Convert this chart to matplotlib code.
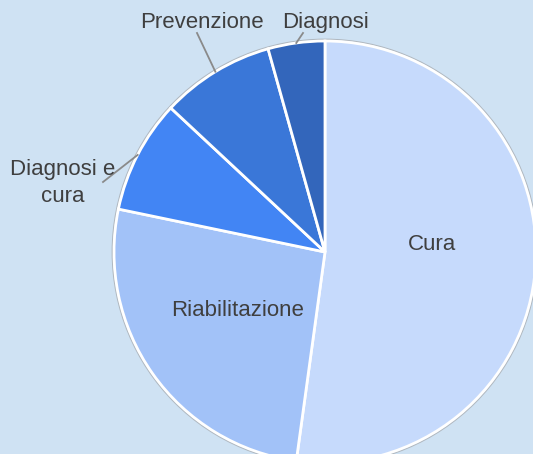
import numpy as np
import matplotlib
matplotlib.use("Agg")
import matplotlib.pyplot as plt
from matplotlib.patches import Circle

labels = ["Cura", "Riabilitazione", "Diagnosi e\ncura", "Prevenzione", "Diagnosi"]
values = [12, 6, 2, 2, 1]
colors = ["#c6dafc", "#a2c2f8", "#4285f4", "#3a77d8", "#3366bb"]

plt.rcParams['font.family'] = ['Liberation Sans', 'DejaVu Sans']
bg = "#cfe2f3"
W, H = 533, 454
fig = plt.figure(figsize=(W / 100, H / 100), dpi=100, facecolor=bg)
cx, cy, R = 325, 252, 211
ax = fig.add_axes([(cx - R) / W, (H - cy - R) / H, 2 * R / W, 2 * R / H])
ax.set_facecolor(bg)

# outer grey outline
ax.add_patch(Circle((0, 0), 1.008, facecolor='none', edgecolor='#b0b8c0', lw=1.0, zorder=0,
                    clip_on=False))

wedges, _ = ax.pie(values, colors=colors, startangle=90, counterclock=False, radius=1,
                   wedgeprops=dict(edgecolor='white', linewidth=2))
for w in wedges:
    w.set_clip_on(False)
ax.set_xlim(-1, 1)
ax.set_ylim(-1, 1)
ax.set_aspect('equal')
ax.axis('off')

def px2d(x, y):
    return ((x - cx) / R, (cy - y) / R)

def mid_edge(i):
    w = wedges[i]
    a = np.deg2rad((w.theta1 + w.theta2) / 2)
    return (np.cos(a), np.sin(a))

tc = "#3f3f3f"
fs = 16
# inside labels
ax.text(*px2d(432, 245), labels[0], ha='center', va='center', fontsize=fs, color=tc)
ax.text(*px2d(238, 310), labels[1], ha='center', va='center', fontsize=fs, color=tc)

# outside labels with leader lines
out = {2: ((63, 183), (103, 182)), 3: ((202, 22), (197, 33)), 4: ((326, 22), (303, 33))}
for i, (tpos, lend) in out.items():
    e = mid_edge(i)
    le = px2d(*lend)
    ax.plot([e[0], le[0]], [e[1], le[1]], color='#8a8a8a', lw=1.3, clip_on=False, zorder=5)
    ax.text(*px2d(*tpos), labels[i], ha='center', va='center', fontsize=fs, color=tc,
            linespacing=1.32, zorder=6, clip_on=False)

fig.savefig("out.png", dpi=100, facecolor=bg)
